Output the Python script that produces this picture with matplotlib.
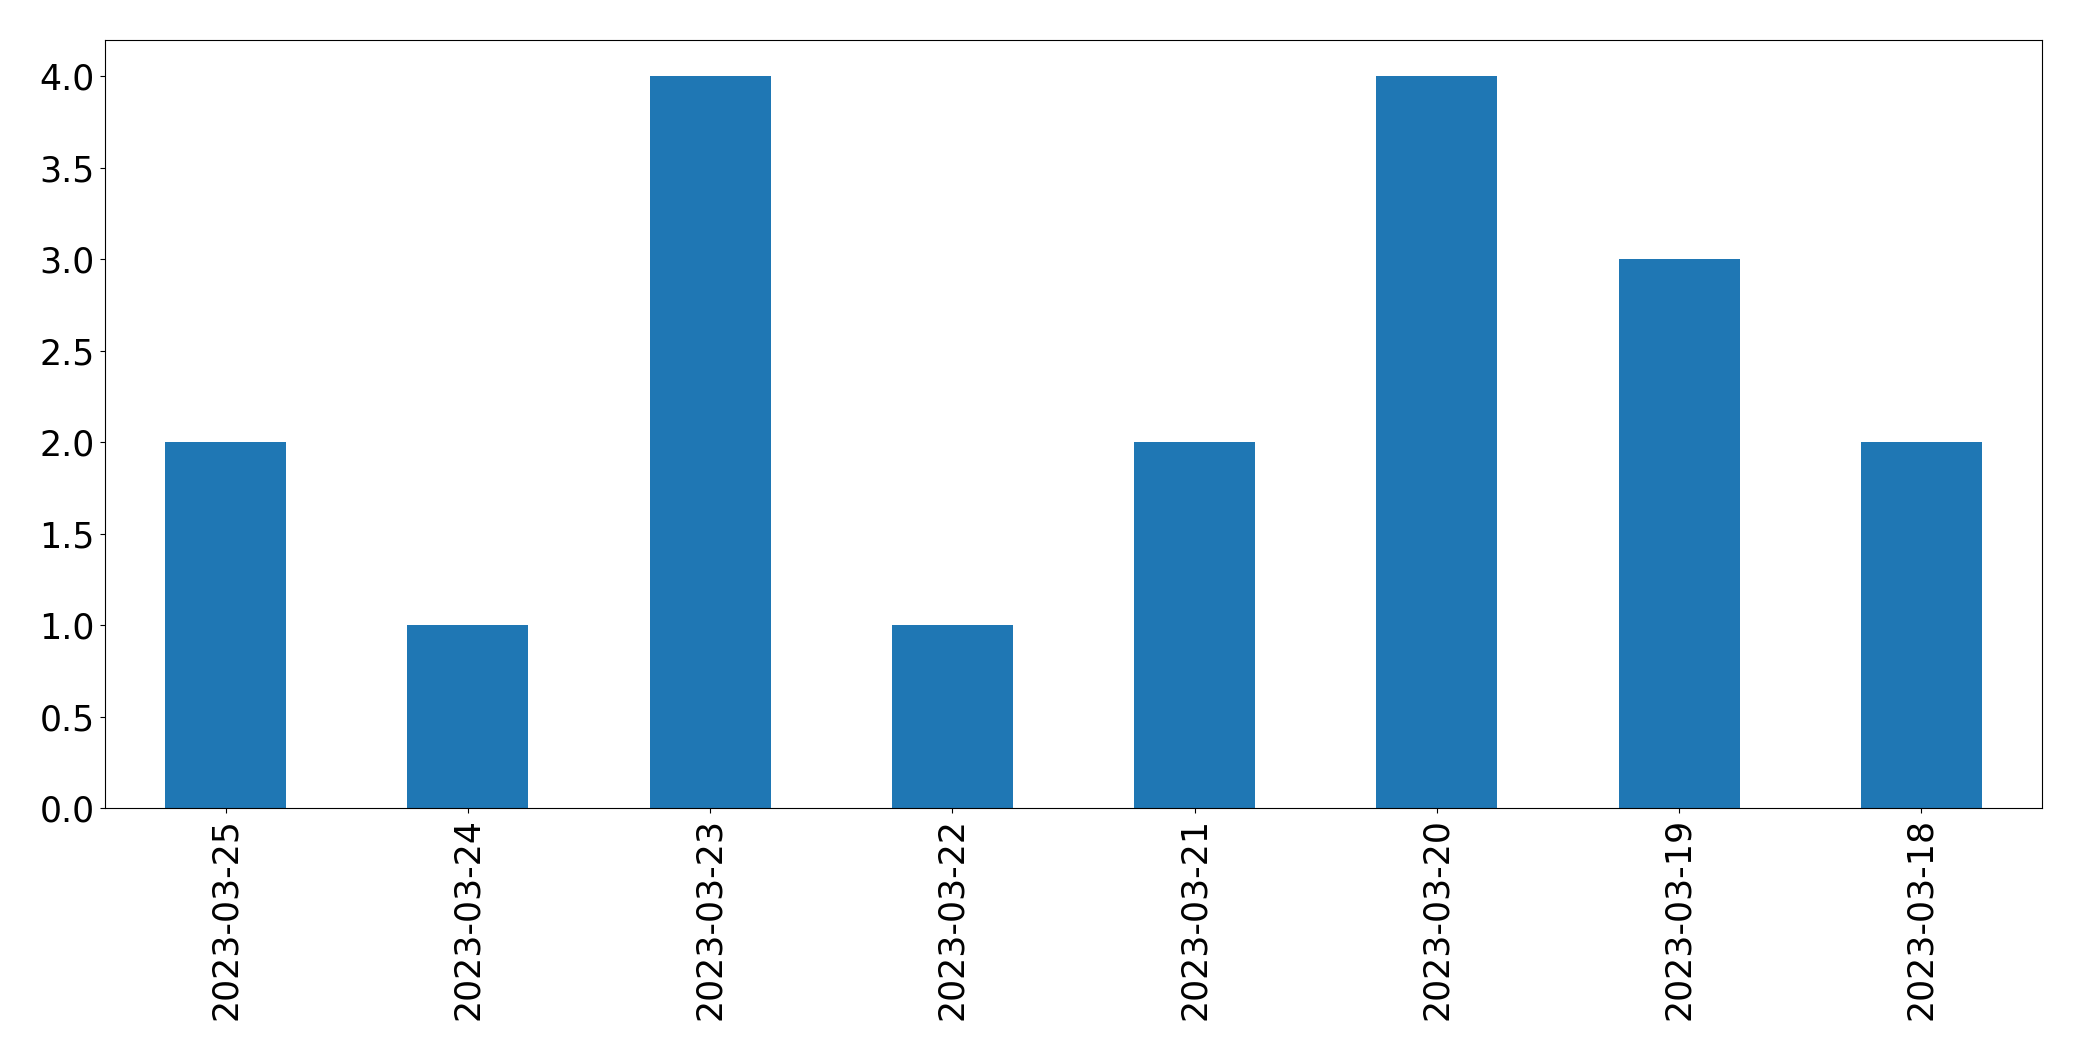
import matplotlib
matplotlib.use("Agg")
import matplotlib.pyplot as plt
import pandas as pd

# daily counts, newest first (as in the source)
dates = ["2023-03-25", "2023-03-24", "2023-03-23", "2023-03-22",
         "2023-03-21", "2023-03-20", "2023-03-19", "2023-03-18"]
counts = [2, 1, 4, 1, 2, 4, 3, 2]

s = pd.Series(counts, index=dates)

fig, ax = plt.subplots(figsize=(20.82, 10.61), dpi=100)
fig.subplots_adjust(left=0.0502, right=0.981, top=0.9625, bottom=0.238)
s.plot(kind="bar", ax=ax, color="#1f77b4")
ax.tick_params(axis="both", labelsize=25)

fig.savefig("out.png", dpi=100)
